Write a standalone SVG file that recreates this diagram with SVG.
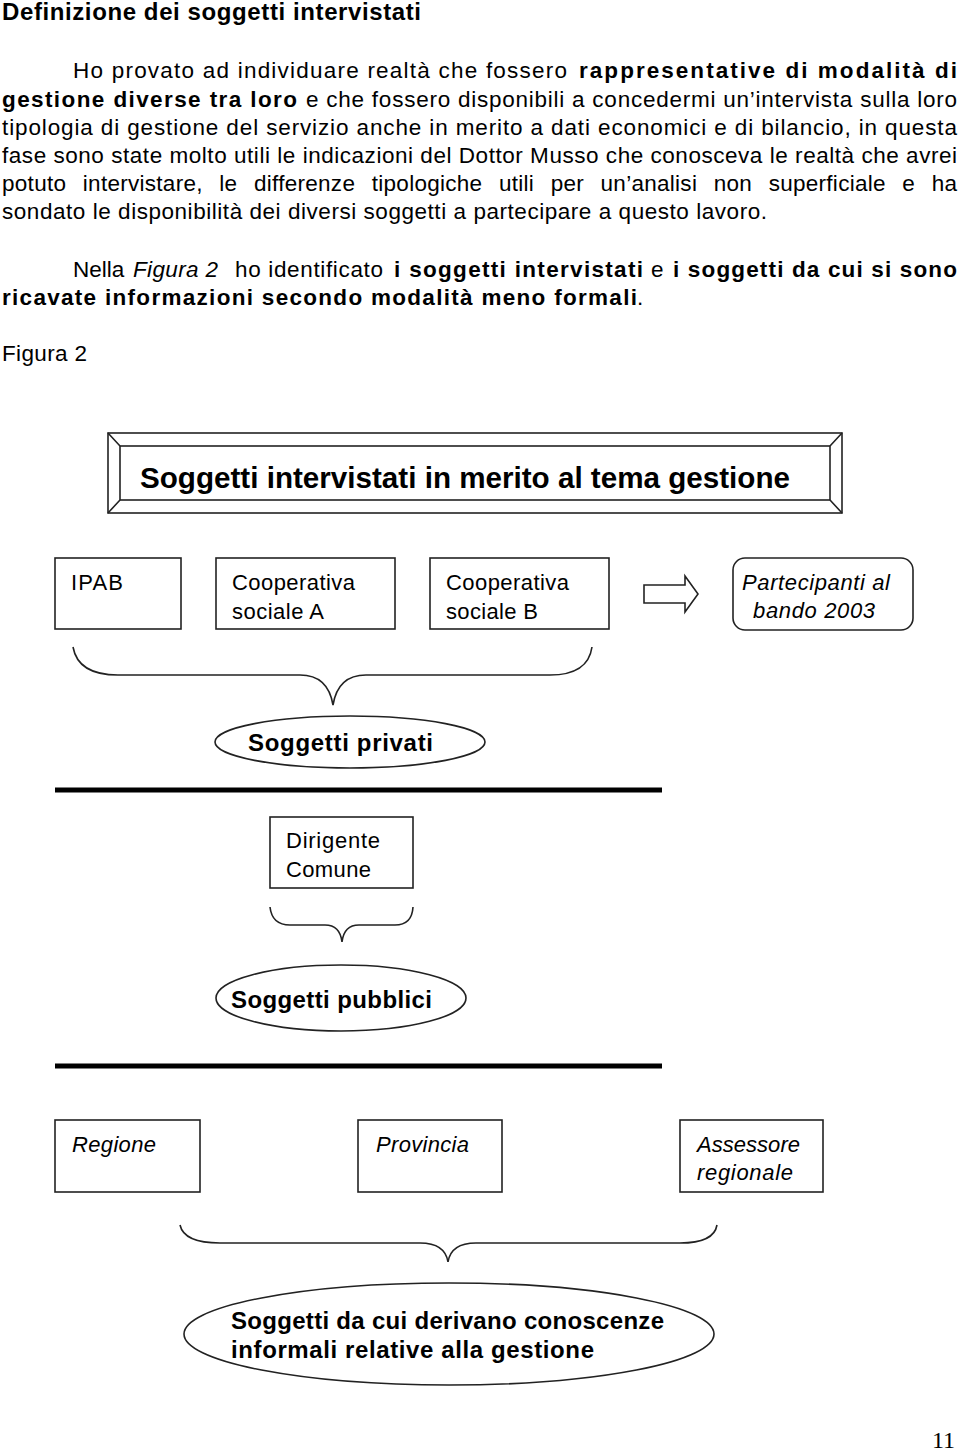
<svg xmlns="http://www.w3.org/2000/svg" width="960" height="1451" viewBox="0 0 960 1451">
<style>
text{font-family:"Liberation Sans",Arial,sans-serif;fill:#000}
.h{font-size:24px;font-weight:bold}
.p{font-size:22.5px}
.b{font-weight:bold}
.i{font-style:italic}
.n{font-size:22px}
.shape{fill:#fff;stroke:#222;stroke-width:1.6}
.line{fill:none;stroke:#222;stroke-width:1.6}
.thick{stroke:#000;stroke-width:5}
.big{font-size:29.5px;font-weight:bold}
.eb{font-size:24px;font-weight:bold}
</style>
<rect width="960" height="1451" fill="#fff"/>
<text class="h" x="2" y="20" textLength="419" lengthAdjust="spacing">Definizione dei soggetti intervistati</text>
<g id="paragraph">
<text class="p" y="78"><tspan x="73" textLength="494" lengthAdjust="spacing">Ho provato ad individuare realtà che fossero</tspan><tspan class="b" x="579" textLength="378" lengthAdjust="spacing">rappresentative di modalità di</tspan></text>
<text class="p" y="107"><tspan class="b" x="2" textLength="295" lengthAdjust="spacing">gestione diverse tra loro</tspan><tspan x="306" textLength="651" lengthAdjust="spacing">e che fossero disponibili a concedermi un’intervista sulla loro</tspan></text>
<text class="p" x="2" y="135" textLength="955" lengthAdjust="spacing">tipologia di gestione del servizio anche in merito a dati economici e di bilancio, in questa</text>
<text class="p" x="2" y="163" textLength="955" lengthAdjust="spacing">fase sono state molto utili le indicazioni del Dottor Musso che conosceva le realtà che avrei</text>
<text class="p" x="2" y="191" textLength="955" lengthAdjust="spacing" word-spacing="10">potuto intervistare, le differenze tipologiche utili per un’analisi non superficiale e ha</text>
<text class="p" x="2" y="219" textLength="765" lengthAdjust="spacing">sondato le disponibilità dei diversi soggetti a partecipare a questo lavoro.</text>
<text class="p" y="277"><tspan x="73">Nella </tspan><tspan class="i" x="133" textLength="85" lengthAdjust="spacing">Figura 2</tspan><tspan x="235" textLength="148" lengthAdjust="spacing">ho identificato</tspan><tspan class="b" x="394" textLength="249" lengthAdjust="spacing">i soggetti intervistati</tspan><tspan x="651">e</tspan><tspan class="b" x="673" textLength="284" lengthAdjust="spacing">i soggetti da cui si sono</tspan></text>
<text class="p" y="305"><tspan class="b" x="2" textLength="635" lengthAdjust="spacing">ricavate informazioni secondo modalità meno formali</tspan><tspan x="637">.</tspan></text>
<text class="p" x="2" y="361" textLength="85" lengthAdjust="spacing">Figura 2</text>
</g>
<g id="header">
<rect class="shape" x="108" y="433" width="734" height="80"/>
<rect class="shape" x="120" y="446" width="710" height="54"/>
<path class="line" d="M108,433 L120,446 M842,433 L830,446 M108,513 L120,500 M842,513 L830,500"/>
<text class="big" x="140" y="488" textLength="650" lengthAdjust="spacingAndGlyphs">Soggetti intervistati in merito al tema gestione</text>
</g>
<g id="ipab">
<rect class="shape" x="55" y="558" width="126" height="71"/>
<text class="n" x="71" y="590" textLength="52" lengthAdjust="spacing">IPAB</text>
</g>
<g id="coopA">
<rect class="shape" x="216" y="558" width="179" height="71"/>
<text class="n" x="232" y="590" textLength="123" lengthAdjust="spacing">Cooperativa</text>
<text class="n" x="232" y="619" textLength="92" lengthAdjust="spacing">sociale A</text>
</g>
<g id="coopB">
<rect class="shape" x="430" y="558" width="179" height="71"/>
<text class="n" x="446" y="590" textLength="123" lengthAdjust="spacing">Cooperativa</text>
<text class="n" x="446" y="619" textLength="92" lengthAdjust="spacing">sociale B</text>
</g>
<g id="partecipanti">
<rect class="shape" x="733" y="558" width="180" height="72" rx="12" ry="12"/>
<text class="n i" x="742" y="590" textLength="148" lengthAdjust="spacing">Partecipanti al</text>
<text class="n i" x="753" y="618" textLength="122" lengthAdjust="spacing">bando 2003</text>
</g>
<g id="privati">
<ellipse class="shape" cx="350" cy="742" rx="135" ry="26"/>
<text class="eb" x="248" y="751" textLength="185" lengthAdjust="spacing">Soggetti privati</text>
</g>
<g id="dirigente">
<rect class="shape" x="270" y="817" width="143" height="71"/>
<text class="n" x="286" y="848" textLength="94" lengthAdjust="spacing">Dirigente</text>
<text class="n" x="286" y="877" textLength="85" lengthAdjust="spacing">Comune</text>
</g>
<g id="pubblici">
<ellipse class="shape" cx="341" cy="998" rx="125" ry="33"/>
<text class="eb" x="231" y="1008" textLength="201" lengthAdjust="spacing">Soggetti pubblici</text>
</g>
<g id="regione">
<rect class="shape" x="55" y="1120" width="145" height="72"/>
<text class="n i" x="72" y="1152" textLength="84" lengthAdjust="spacing">Regione</text>
</g>
<g id="provincia">
<rect class="shape" x="358" y="1120" width="144" height="72"/>
<text class="n i" x="376" y="1152" textLength="93" lengthAdjust="spacing">Provincia</text>
</g>
<g id="assessore">
<rect class="shape" x="680" y="1120" width="143" height="72"/>
<text class="n i" x="697" y="1152" textLength="103" lengthAdjust="spacing">Assessore</text>
<text class="n i" x="697" y="1180" textLength="96" lengthAdjust="spacing">regionale</text>
</g>
<g id="informali">
<ellipse class="shape" cx="449" cy="1334" rx="265" ry="51"/>
<text class="eb" x="231" y="1329" font-size="22" textLength="433" lengthAdjust="spacing">Soggetti da cui derivano conoscenze</text>
<text class="eb" x="231" y="1358" font-size="22" textLength="363" lengthAdjust="spacing">informali relative alla gestione</text>
</g>
<g id="connectors">
<path class="shape" d="M644,585 L685,585 L685,576 L698,594 L685,612 L685,603 L644,603 Z"/>
<path class="line" d="M73,647 Q78,675 118,675 L300,675 Q328,675 333,705 Q338,675 366,675 L550,675 Q588,675 592,647"/>
<line class="thick" x1="55" y1="790" x2="662" y2="790"/>
<path class="line" d="M270,907 Q272,925 290,925 L325,925 Q340,925 342,942 Q344,925 359,925 L395,925 Q412,925 413,907"/>
<line class="thick" x1="55" y1="1066" x2="662" y2="1066"/>
<path class="line" d="M180,1225 Q184,1243 220,1243 L420,1243 Q445,1243 448,1262 Q451,1243 476,1243 L680,1243 Q714,1243 717,1225"/>
</g>
<text x="955" y="1448" text-anchor="end" font-size="24" style="font-family:'Liberation Serif',serif">11</text>
</svg>
